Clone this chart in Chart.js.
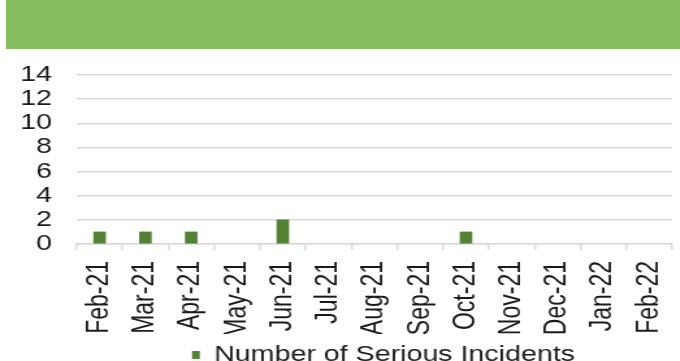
<!DOCTYPE html>
<html>
<head>
<meta charset="utf-8">
<script src="https://cdn.jsdelivr.net/npm/chart.js@4.4.1/dist/chart.umd.min.js"></script>
<style>
    html, body {
        margin: 0;
        padding: 0;
        width: 680px;
        height: 361px;
        overflow: hidden;
        background: #ffffff;
    }
    .header-band {
        position: absolute;
        left: 6px;
        top: 0;
        width: 674px;
        height: 49px;
        background: #86bd5f;
    }
    /* chart is laid out narrow and widened, like the wide text of the original sheet */
    .chart-wrap {
        position: absolute;
        left: 0;
        top: 49px;
        width: 523px;
        height: 327px;
        transform: scaleX(1.3);
        transform-origin: 0 0;
    }
</style>
</head>
<body>
<div class="header-band"></div>
<div class="chart-wrap">
    <canvas id="incidentsChart"></canvas>
</div>

<script>
let months = ['Feb-21', 'Mar-21', 'Apr-21', 'May-21', 'Jun-21', 'Jul-21', 'Aug-21',
    'Sep-21', 'Oct-21', 'Nov-21', 'Dec-21', 'Jan-22', 'Feb-22'];
let seriousIncidents = [1, 1, 1, 0, 2, 0, 0, 0, 1, 0, 0, 0, 0];
let yMin = 0;
let yMax = 14;
let yStep = 2;

let fontFamily = '"Liberation Sans", Arial, sans-serif';
let textColor = '#1a1a1a';
let gridColor = '#d9d9d9';
let barColor = '#548235';

// nudge the legend a little to the right of the plot centre
let legendShift = {
    id: 'legendShift',
    afterLayout(chart) {
        chart.legend.left += 7;
        chart.legend.right += 7;
    }
};

let ctx = document.getElementById('incidentsChart').getContext('2d');
let incidentsChart = new Chart(ctx, {
    type: 'bar',
    data: {
        labels: months,
        datasets: [{
            label: 'Number of Serious Incidents',
            data: seriousIncidents,
            // months with no incidents leave no sliver on the axis
            backgroundColor: (c) => c.raw === 0 ? 'rgba(0,0,0,0)' : barColor,
            borderWidth: 0,
            barThickness: 9
        }]
    },
    options: {
        responsive: true,
        maintainAspectRatio: false,
        animation: false,
        layout: {
            padding: { top: 26, left: 17, right: 6, bottom: 0 }
        },
        plugins: {
            tooltip: { enabled: false },
            legend: {
                position: 'bottom',
                fullSize: false,
                labels: {
                    color: textColor,
                    font: { family: fontFamily, size: 22 },
                    boxWidth: 6,
                    boxHeight: 8,
                    padding: 10,
                    generateLabels: (chart) => [{
                        text: chart.data.datasets[0].label,
                        fillStyle: barColor,
                        strokeStyle: barColor,
                        lineWidth: 0,
                        fontColor: textColor,
                        datasetIndex: 0
                    }]
                }
            }
        },
        scales: {
            x: {
                afterFit: (scale) => {
                    scale.height = 90;
                    scale.paddingLeft = 0;
                    scale.paddingRight = 0;
                },
                grid: {
                    offset: true,
                    drawOnChartArea: false,
                    tickLength: 6,
                    color: gridColor,
                    lineWidth: 1.5
                },
                border: { color: gridColor, width: 1.5 },
                ticks: {
                    color: textColor,
                    font: { family: fontFamily, size: 23 },
                    minRotation: 90,
                    maxRotation: 90,
                    autoSkip: false,
                    padding: 11
                }
            },
            y: {
                min: yMin,
                max: yMax,
                afterFit: (scale) => {
                    scale.width = 42;
                    scale.paddingTop = 0;
                    scale.paddingBottom = 0;
                },
                grid: {
                    color: gridColor,
                    lineWidth: 1.5,
                    drawTicks: false
                },
                border: { display: false },
                ticks: {
                    stepSize: yStep,
                    autoSkip: false,
                    color: textColor,
                    font: { family: fontFamily, size: 22 },
                    padding: 19
                }
            }
        }
    },
    plugins: [legendShift]
});
</script>
</body>
</html>
